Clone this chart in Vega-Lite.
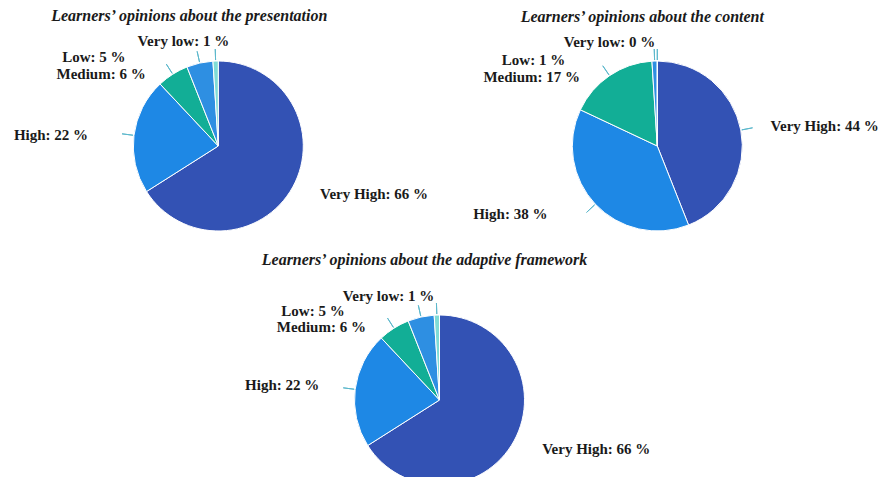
{
  "$schema": "https://vega.github.io/schema/vega-lite/v6.json",
  "padding": {"top": 8, "left": 0, "right": 0, "bottom": 0},
  "background": "white",
  "spacing": 6,
  "center": true,
  "config": {
    "view": {"stroke": null},
    "title": {"font": "Liberation Serif", "fontStyle": "italic", "fontWeight": "bold", "fontSize": 16, "color": "#1a1a1a", "anchor": "middle"}
  },
  "vconcat": [
    {
      "hconcat": [
        {
          "width": 436, "height": 200,
          "title": {"text": "Learners’ opinions about the presentation", "dx": -29, "offset": 10},
          "data": {"values": [
            {"category": "Very High", "rank": 1, "value": 66, "label": "Very High: 66 %"},
            {"category": "High", "rank": 2, "value": 22, "label": "High: 22 %"},
            {"category": "Medium", "rank": 3, "value": 6, "label": "Medium: 6 %"},
            {"category": "Low", "rank": 4, "value": 5, "label": "Low: 5 %"},
            {"category": "Very low", "rank": 5, "value": 1, "label": "Very low: 1 %"}
          ]},
          "encoding": {
            "theta": {"field": "value", "type": "quantitative", "stack": true},
            "order": {"field": "rank", "type": "quantitative"}
          },
          "layer": [
            {"mark": {"type": "arc", "outerRadius": 85, "stroke": "white", "strokeWidth": 1},
             "encoding": {"color": {"field": "category", "type": "nominal", "legend": null,
               "scale": {"domain": ["Very High", "High", "Medium", "Low", "Very low"], "range": ["#3352B4", "#1E88E5", "#12AE96", "#2E8FE2", "#7FDCD6"]}}}},
            {"mark": {"type": "arc", "innerRadius": 86, "outerRadius": 97, "padAngle": 3.1, "fill": null, "fillOpacity": 0, "stroke": "#5cb8cc", "strokeWidth": 1},
             "encoding": {"detail": {"field": "category"},
               "strokeOpacity": {"condition": {"test": "datum.rank === 1", "value": 0}, "value": 1}}},
            {"mark": {"type": "text", "radius": 100, "font": "Liberation Serif", "fontWeight": "bold", "fontSize": 15, "color": "#1a1a1a", "baseline": "middle",
               "align": {"expr": "datum.category === 'Very High' ? 'left' : 'right'"},
               "dx": {"expr": "datum.category === 'Very High' ? 14 : datum.category === 'High' ? -31 : datum.category === 'Medium' ? -19 : datum.category === 'Low' ? -71 : 14"},
               "dy": {"expr": "datum.category === 'Very High' ? 0 : datum.category === 'High' ? 2 : datum.category === 'Medium' ? 12 : datum.category === 'Low' ? 9 : -5"}},
             "encoding": {"text": {"field": "label"}, "detail": {"field": "category"}}}
          ]
        },
        {
          "width": 442, "height": 200,
          "title": {"text": "Learners’ opinions about the content", "dx": -15, "offset": 10},
          "data": {"values": [
            {"category": "Very High", "rank": 1, "value": 44, "label": "Very High: 44 %"},
            {"category": "High", "rank": 2, "value": 38, "label": "High: 38 %"},
            {"category": "Medium", "rank": 3, "value": 17, "label": "Medium: 17 %"},
            {"category": "Low", "rank": 4, "value": 1, "label": "Low: 1 %"},
            {"category": "Very low", "rank": 5, "value": 0, "label": "Very low: 0 %"}
          ]},
          "encoding": {
            "theta": {"field": "value", "type": "quantitative", "stack": true},
            "order": {"field": "rank", "type": "quantitative"}
          },
          "layer": [
            {"mark": {"type": "arc", "outerRadius": 85, "stroke": "white", "strokeWidth": 1},
             "encoding": {"color": {"field": "category", "type": "nominal", "legend": null,
               "scale": {"domain": ["Very High", "High", "Medium", "Low", "Very low"], "range": ["#3352B4", "#1E88E5", "#12AE96", "#2E8FE2", "#7FDCD6"]}}}},
            {"mark": {"type": "arc", "innerRadius": 86, "outerRadius": 97, "padAngle": 3.1, "fill": null, "fillOpacity": 0, "stroke": "#5cb8cc", "strokeWidth": 1},
             "encoding": {"detail": {"field": "category"}}},
            {"mark": {"type": "text", "radius": 100, "font": "Liberation Serif", "fontWeight": "bold", "fontSize": 15, "color": "#1a1a1a", "baseline": "middle",
               "align": {"expr": "datum.category === 'Very High' ? 'left' : 'right'"},
               "dx": {"expr": "datum.category === 'Very High' ? 15 : datum.category === 'High' ? -37 : datum.category === 'Medium' ? -21 : datum.category === 'Low' ? -89 : -2"},
               "dy": {"expr": "datum.category === 'Very High' ? -1 : datum.category === 'High' ? 0 : datum.category === 'Medium' ? 14 : datum.category === 'Low' ? 14 : -4"}},
             "encoding": {"text": {"field": "label"}, "detail": {"field": "category"}}}
          ]
        }
      ],
      "spacing": 0
    },
    {
      "width": 436, "height": 200,
      "title": {"text": "Learners’ opinions about the adaptive framework", "dx": -15, "offset": 21},
      "data": {"values": [
        {"category": "Very High", "rank": 1, "value": 66, "label": "Very High: 66 %"},
        {"category": "High", "rank": 2, "value": 22, "label": "High: 22 %"},
        {"category": "Medium", "rank": 3, "value": 6, "label": "Medium: 6 %"},
        {"category": "Low", "rank": 4, "value": 5, "label": "Low: 5 %"},
        {"category": "Very low", "rank": 5, "value": 1, "label": "Very low: 1 %"}
      ]},
      "encoding": {
        "theta": {"field": "value", "type": "quantitative", "stack": true},
        "order": {"field": "rank", "type": "quantitative"}
      },
      "layer": [
        {"mark": {"type": "arc", "outerRadius": 85, "stroke": "white", "strokeWidth": 1},
         "encoding": {"color": {"field": "category", "type": "nominal", "legend": null,
           "scale": {"domain": ["Very High", "High", "Medium", "Low", "Very low"], "range": ["#3352B4", "#1E88E5", "#12AE96", "#2E8FE2", "#7FDCD6"]}}}},
        {"mark": {"type": "arc", "innerRadius": 86, "outerRadius": 97, "padAngle": 3.1, "fill": null, "fillOpacity": 0, "stroke": "#5cb8cc", "strokeWidth": 1},
         "encoding": {"detail": {"field": "category"},
           "strokeOpacity": {"condition": {"test": "datum.rank === 1", "value": 0}, "value": 1}}},
        {"mark": {"type": "text", "radius": 100, "font": "Liberation Serif", "fontWeight": "bold", "fontSize": 15, "color": "#1a1a1a", "baseline": "middle",
           "align": {"expr": "datum.category === 'Very High' ? 'left' : 'right'"},
           "dx": {"expr": "datum.category === 'Very High' ? 15 : datum.category === 'High' ? -21 : datum.category === 'Medium' ? -20 : datum.category === 'Low' ? -73 : -2"},
           "dy": {"expr": "datum.category === 'Very High' ? 1 : datum.category === 'High' ? -2 : datum.category === 'Medium' ? 11 : datum.category === 'Low' ? 9 : -4"}},
         "encoding": {"text": {"field": "label"}, "detail": {"field": "category"}}}
      ]
    }
  ]
}
